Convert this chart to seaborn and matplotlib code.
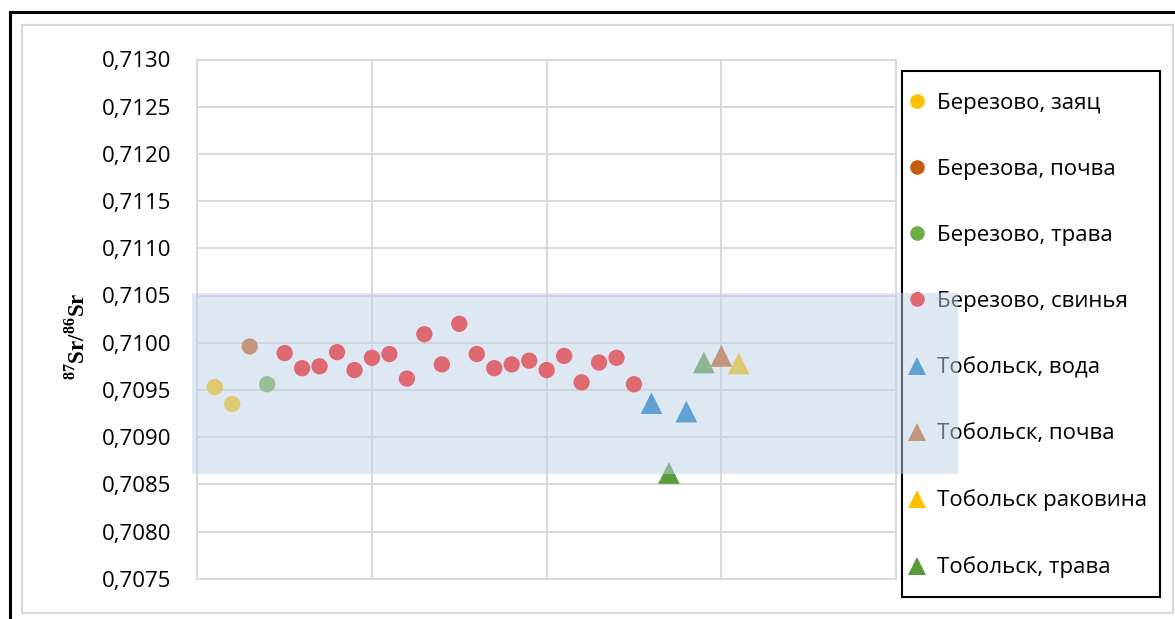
import numpy as np
import pandas as pd
import matplotlib
matplotlib.use("Agg")
import matplotlib.pyplot as plt
import seaborn as sns
from matplotlib.patches import Rectangle
from matplotlib.lines import Line2D

# --- data -------------------------------------------------------------
zayats_x = [1, 2]
zayats_y = [0.70953, 0.70935]

berez_pochva_x = [3]
berez_pochva_y = [0.70996]

berez_trava_x = [4]
berez_trava_y = [0.70956]

svinya_x = [5, 6, 7, 8, 9, 10, 11, 12, 13, 14, 15, 16, 17, 18, 19, 20, 21,
            22, 23, 24, 25]
svinya_y = [0.70989, 0.70973, 0.70975, 0.70990, 0.70971, 0.70984, 0.70988,
            0.70962, 0.71009, 0.70977, 0.71020, 0.70988, 0.70973, 0.70977,
            0.70981, 0.70971, 0.70986, 0.70958, 0.70979, 0.70984, 0.70956]

tob_voda_x = [26, 28]
tob_voda_y = [0.70936, 0.70927]

tob_trava_x = [27, 29]
tob_trava_y = [0.70862, 0.70979]

tob_pochva_x = [30]
tob_pochva_y = [0.70986]

tob_rakovina_x = [31]
tob_rakovina_y = [0.70978]

series_names = ["Березово, заяц", "Березова, почва", "Березово, трава",
                "Березово, свинья", "Тобольск, вода", "Тобольск, почва",
                "Тобольск раковина", "Тобольск, трава"]

# background range of local values
range_low = 0.70861
range_high = 0.71053

y_ticks = [0.7075, 0.7080, 0.7085, 0.7090, 0.7095, 0.7100, 0.7105,
           0.7110, 0.7115, 0.7120, 0.7125, 0.7130]
y_tick_labels = ["0,7075", "0,7080", "0,7085", "0,7090", "0,7095", "0,7100",
                 "0,7105", "0,7110", "0,7115", "0,7120", "0,7125", "0,7130"]

# --- styling ----------------------------------------------------------
colors = {
    "Березово, заяц": "#FFC000",
    "Березова, почва": "#C55A11",
    "Березово, трава": "#70AD47",
    "Березово, свинья": "#FF0000",
    "Тобольск, вода": "#0070C0",
    "Тобольск, почва": "#C55A11",
    "Тобольск раковина": "#FFC000",
    "Тобольск, трава": "#5A9A38",
}
circle_series = series_names[:4]

sns.set_theme(style="white")
plt.rcParams["font.family"] = ["Open Sans", "DejaVu Sans"]
plt.rcParams["mathtext.fontset"] = "custom"
plt.rcParams["mathtext.rm"] = "Liberation Serif:bold"
plt.rcParams["mathtext.bf"] = "Liberation Serif:bold"

W, H = 1175, 619
fig = plt.figure(figsize=(W / 100, H / 100), dpi=100)
fig.patch.set_facecolor("white")

ax_l, ax_r, ax_t, ax_b = 197.3, 896.0, 59.5, 578.7
ax = fig.add_axes([ax_l / W, 1 - ax_b / H, (ax_r - ax_l) / W, (ax_b - ax_t) / H])

xs = [zayats_x, berez_pochva_x, berez_trava_x, svinya_x,
      tob_voda_x, tob_pochva_x, tob_rakovina_x, tob_trava_x]
ys = [zayats_y, berez_pochva_y, berez_trava_y, svinya_y,
      tob_voda_y, tob_pochva_y, tob_rakovina_y, tob_trava_y]
frames = []
for name, x, y in zip(series_names, xs, ys):
    frames.append(pd.DataFrame({"x": x, "y": y, "series": name}))
df = pd.concat(frames, ignore_index=True)

df_circ = df[df["series"].isin(circle_series)]
df_tri = df[~df["series"].isin(circle_series)]

sns.scatterplot(data=df_circ, x="x", y="y", hue="series", palette=colors,
                marker="o", s=138, linewidth=0, legend=False, ax=ax, zorder=3)
sns.scatterplot(data=df_tri, x="x", y="y", hue="series", palette=colors,
                marker="^", s=245, linewidth=0, legend=False, ax=ax, zorder=3)

ax.set_xlim(0, 40)
ax.set_ylim(0.7075, 0.7130)
ax.set_xticks([0, 10, 20, 30, 40])
ax.set_xticklabels([])
ax.set_yticks(y_ticks)
ax.set_yticklabels(y_tick_labels, fontsize=16, color="black")
ax.tick_params(axis="both", length=0)
ax.tick_params(axis="y", pad=18.5)
ax.set_xlabel("")
ax.grid(True, color="#D9D9D9", linewidth=1.4)
ax.set_axisbelow(True)
for side, sp in ax.spines.items():
    sp.set_color("#D9D9D9")
    sp.set_linewidth(1.4)

ax.set_ylabel(r"$^{87}$Sr/$^{86}$Sr", fontsize=16.5, fontweight="bold",
              fontfamily="Liberation Serif", color="black")
ax.yaxis.set_label_coords(-0.155, 0.466)

# legend with a separate frame
handles = []
for name in series_names:
    if name in circle_series:
        handles.append(Line2D([], [], linestyle="None", marker="o",
                              markersize=10.5, markeredgewidth=0,
                              color=colors[name]))
    else:
        handles.append(Line2D([], [], linestyle="None", marker="^",
                              markersize=12.5, markeredgewidth=0,
                              color=colors[name]))

leg_frame = Rectangle((902 / W, 1 - 597 / H), (1160 - 902) / W, (597 - 71) / H,
                      transform=fig.transFigure, facecolor="white",
                      edgecolor="black", linewidth=1.5, zorder=4.5,
                      clip_on=False)
ax.add_artist(leg_frame)

leg = ax.legend(handles, series_names, loc="center left",
                bbox_to_anchor=(906.6 / W, 1 - 335.5 / H),
                bbox_transform=fig.transFigure, frameon=False, fontsize=16,
                labelspacing=2.03, handlelength=0.94, handletextpad=0.43,
                borderpad=0, borderaxespad=0)
for t in leg.get_texts():
    t.set_color("black")

# translucent band of the local range, on top of everything
band = Rectangle((-0.32, range_low), 43.85, range_high - range_low,
                 transform=ax.transData, facecolor=(190 / 255, 210 / 255, 230 / 255),
                 alpha=0.5, edgecolor="none", zorder=10, clip_on=False)
ax.add_artist(band)

# chart-area borders
fig.add_artist(Rectangle((22 / W, 1 - 613 / H), (1173 - 22) / W, (613 - 25) / H,
                         transform=fig.transFigure, fill=False,
                         edgecolor="#D9D9D9", linewidth=1.6))
fig.add_artist(Rectangle((10 / W, -0.05), 1.2, 1.05 - 12 / H,
                         transform=fig.transFigure, fill=False,
                         edgecolor="black", linewidth=2.2))

fig.savefig("out.png", dpi=100)
